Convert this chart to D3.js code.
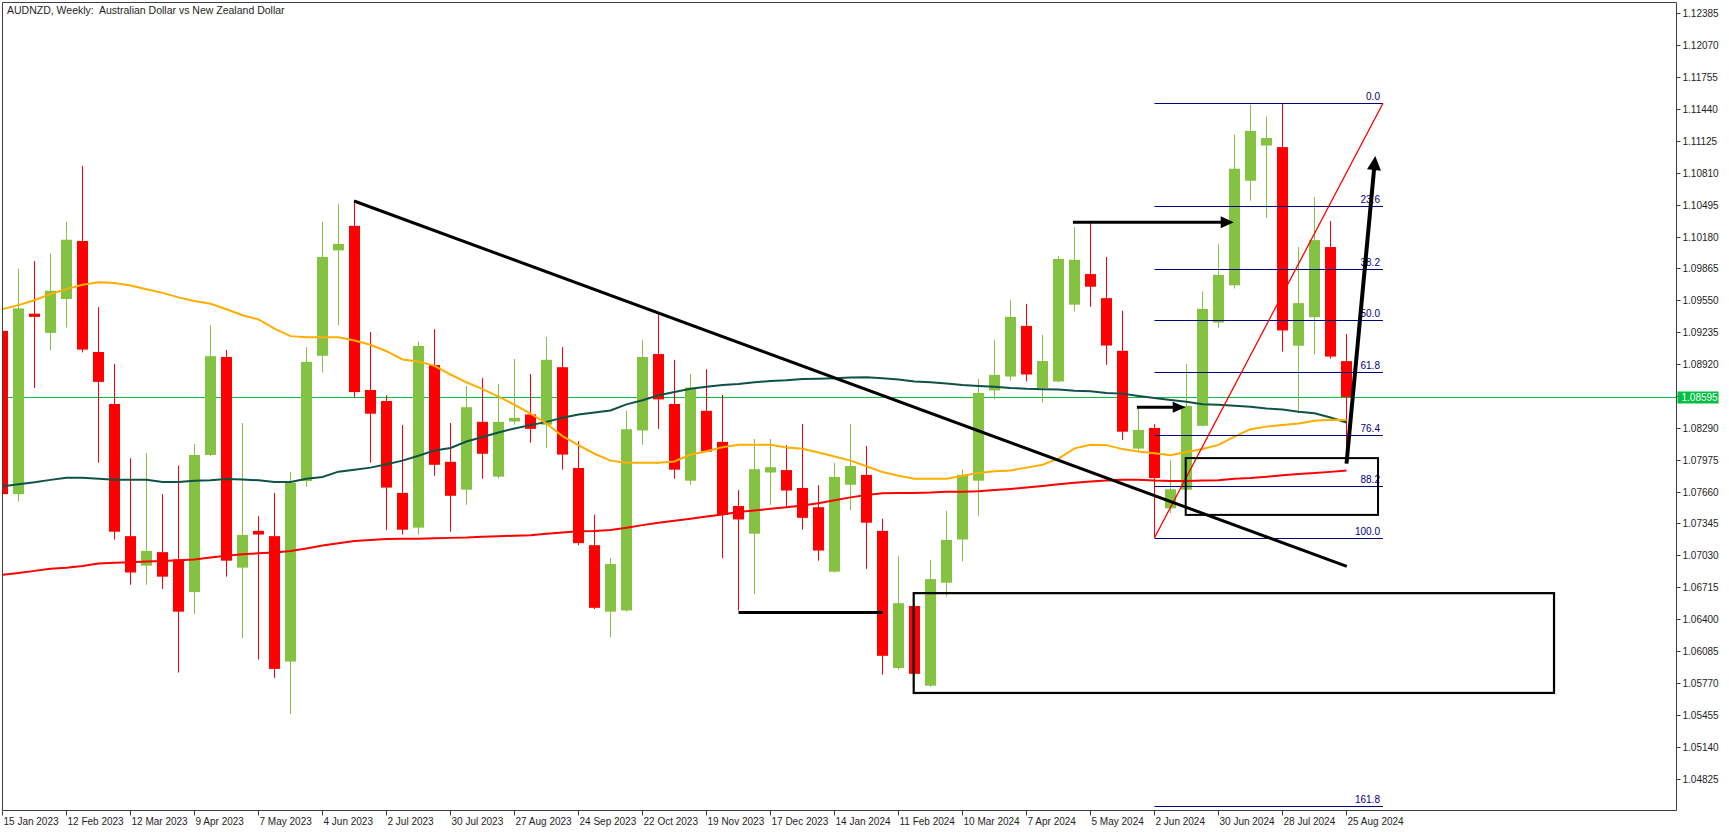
<!DOCTYPE html>
<html><head><meta charset="utf-8">
<script src="https://cdn.jsdelivr.net/npm/d3@7"></script>
<style>
html,body{margin:0;padding:0;background:#fff;overflow:hidden}
svg{display:block}
text{font-family:"Liberation Sans Narrow","Liberation Sans",Arial,sans-serif}
</style></head><body>
<svg id="c" width="1729" height="832"></svg>
<script>
// ---- weekly OHLC, AUDNZD (one entry per week, starting 15 Jan 2023)
const openP = [1.09248,1.07635,1.09418,1.09228,1.09563,1.10136,1.09039,1.08526,1.07220,1.06929,
1.07062,1.06990,1.06667,1.08022,1.08990,1.06909,1.07272,1.07220,1.05981,1.07764,
1.09002,1.10043,1.10285,1.08664,1.08555,1.07647,1.07304,1.08910,1.07954,1.07679,
1.08349,1.07808,1.08353,1.08422,1.08321,1.08889,1.07893,1.07131,1.06474,1.06486,
1.08264,1.09019,1.08526,1.07768,1.08458,1.08151,1.07518,1.07244,1.07849,1.07873,
1.07696,1.07506,1.06869,1.07728,1.07825,1.07272,1.05917,1.06530,1.05743,1.06760,
1.07187,1.07768,1.08660,1.08797,1.09297,1.08684,1.08748,1.09507,1.09809,1.09571,
1.09051,1.08085,1.08289,1.07495,1.07679,1.08310,1.09330,1.09698,1.10731,1.11079,
1.11063,1.09101,1.09383,1.10076,1.08949];
const highP = [1.09320,1.09861,1.09938,1.10013,1.10325,1.10878,1.09482,1.08922,1.07990,1.08042,
1.07635,1.07917,1.08131,1.09305,1.09059,1.08337,1.07417,1.07647,1.07853,1.09087,
1.10325,1.10503,1.10539,1.09236,1.08611,1.08317,1.09140,1.09264,1.08337,1.08704,
1.08781,1.08724,1.08970,1.08821,1.09188,1.09087,1.08159,1.07433,1.07002,1.08458,
1.09160,1.09410,1.08962,1.08821,1.08869,1.08615,1.07675,1.08179,1.08179,1.08119,
1.08329,1.07724,1.07942,1.08329,1.08111,1.07393,1.07022,1.06545,1.06985,1.07470,
1.07877,1.08772,1.09160,1.09555,1.09515,1.09208,1.09987,1.10273,1.10313,1.09978,
1.09446,1.08486,1.08326,1.07970,1.08920,1.09637,1.10104,1.11186,1.11481,1.11366,
1.11493,1.10076,1.10571,1.10333,1.09216];
const lowP = [1.07570,1.07563,1.08684,1.09055,1.09281,1.09035,1.07946,1.07187,1.06740,1.06740,
1.06699,1.05873,1.06453,1.08010,1.06820,1.06215,1.06002,1.05820,1.05465,1.07708,
1.08837,1.09305,1.08591,1.07946,1.07280,1.07236,1.07236,1.07817,1.07264,1.07530,
1.07788,1.07790,1.08321,1.08143,1.08091,1.07877,1.07131,1.06500,1.06223,1.06474,
1.08123,1.08280,1.07788,1.07728,1.08050,1.07002,1.06486,1.06647,1.07530,1.07510,
1.07284,1.06978,1.06860,1.07474,1.06897,1.05852,1.05901,1.05855,1.05731,1.06624,
1.06970,1.07421,1.08571,1.08756,1.08748,1.08539,1.08740,1.09438,1.09486,1.08914,
1.08171,1.08052,1.07204,1.07446,1.07670,1.08305,1.09277,1.09666,1.10534,1.10366,
1.09043,1.08433,1.09015,1.08974,1.08089];
const closeP = [1.07635,1.09470,1.09386,1.09644,1.10148,1.09063,1.08744,1.07264,1.06861,1.07074,
1.06820,1.06474,1.08022,1.08998,1.06978,1.07232,1.07236,1.05909,1.07748,1.08942,
1.09978,1.10107,1.08643,1.08430,1.07700,1.07284,1.09099,1.07925,1.07619,1.08494,
1.08034,1.08349,1.08389,1.08280,1.08962,1.08026,1.07151,1.06512,1.06945,1.08276,
1.08990,1.08571,1.07877,1.08688,1.08055,1.07433,1.07385,1.07881,1.07901,1.07671,
1.07401,1.07078,1.07805,1.07913,1.07353,1.06038,1.06558,1.05860,1.06796,1.07183,
1.07825,1.08635,1.08813,1.09386,1.08817,1.08950,1.09958,1.09950,1.09684,1.09103,
1.08252,1.08270,1.07794,1.07683,1.08507,1.09465,1.09801,1.10850,1.11223,1.11153,
1.09252,1.09522,1.10145,1.08994,1.08595];

// ---- moving averages
const maOrange = [1.09462,1.09502,1.09551,1.09611,1.09660,1.09704,1.09728,1.09720,1.09696,1.09660,
1.09623,1.09579,1.09543,1.09515,1.09462,1.09402,1.09361,1.09269,1.09196,1.09184,
1.09184,1.09184,1.09152,1.09111,1.09047,1.08966,1.08946,1.08902,1.08817,1.08740,
1.08672,1.08599,1.08518,1.08430,1.08333,1.08208,1.08119,1.08034,1.07966,1.07946,
1.07946,1.07946,1.07958,1.08026,1.08059,1.08099,1.08123,1.08123,1.08123,1.08095,
1.08083,1.08046,1.08006,1.07966,1.07910,1.07853,1.07817,1.07788,1.07788,1.07788,
1.07817,1.07845,1.07861,1.07869,1.07897,1.07925,1.07986,1.08087,1.08123,1.08119,
1.08080,1.08056,1.08040,1.08019,1.08052,1.08081,1.08122,1.08203,1.08277,1.08302,
1.08318,1.08334,1.08359,1.08371,1.08367];
const maTeal = [1.07712,1.07732,1.07752,1.07776,1.07796,1.07796,1.07788,1.07776,1.07776,1.07776,
1.07756,1.07756,1.07768,1.07772,1.07784,1.07780,1.07772,1.07756,1.07756,1.07788,
1.07804,1.07857,1.07877,1.07897,1.07930,1.07966,1.08014,1.08067,1.08091,1.08155,
1.08200,1.08244,1.08284,1.08317,1.08349,1.08389,1.08422,1.08442,1.08462,1.08522,
1.08563,1.08611,1.08643,1.08676,1.08696,1.08712,1.08724,1.08740,1.08752,1.08760,
1.08772,1.08776,1.08781,1.08787,1.08789,1.08781,1.08768,1.08748,1.08740,1.08728,
1.08712,1.08704,1.08696,1.08684,1.08676,1.08672,1.08668,1.08656,1.08652,1.08635,
1.08628,1.08605,1.08584,1.08564,1.08547,1.08523,1.08519,1.08507,1.08498,1.08482,
1.08470,1.08449,1.08433,1.08392,1.08343];
const maRed = [1.06837,1.06857,1.06877,1.06897,1.06909,1.06925,1.06949,1.06958,1.06962,1.06970,
1.06974,1.06982,1.06990,1.07010,1.07026,1.07042,1.07050,1.07058,1.07074,1.07099,
1.07127,1.07151,1.07171,1.07183,1.07191,1.07195,1.07195,1.07199,1.07203,1.07207,
1.07215,1.07220,1.07224,1.07228,1.07244,1.07256,1.07268,1.07272,1.07280,1.07304,
1.07329,1.07353,1.07373,1.07393,1.07413,1.07433,1.07458,1.07474,1.07490,1.07506,
1.07522,1.07546,1.07575,1.07603,1.07627,1.07643,1.07647,1.07647,1.07651,1.07659,
1.07659,1.07663,1.07675,1.07687,1.07700,1.07716,1.07732,1.07748,1.07760,1.07770,
1.07778,1.07777,1.07769,1.07765,1.07765,1.07769,1.07773,1.07786,1.07794,1.07806,
1.07822,1.07835,1.07843,1.07855,1.07868];

// ---- axis labels
const dateLabels = ["15 Jan 2023","12 Feb 2023","12 Mar 2023","9 Apr 2023","7 May 2023","4 Jun 2023",
"2 Jul 2023","30 Jul 2023","27 Aug 2023","24 Sep 2023","22 Oct 2023","19 Nov 2023","17 Dec 2023",
"14 Jan 2024","11 Feb 2024","10 Mar 2024","7 Apr 2024","5 May 2024","2 Jun 2024","30 Jun 2024",
"28 Jul 2024","25 Aug 2024"];
const dateLabelIdx = [0,4,8,12,16,20,24,28,32,36,40,44,48,52,56,60,64,68,72,76,80,84];
const priceTickLabels = ["1.12385","1.12070","1.11755","1.11440","1.11125","1.10810","1.10495",
"1.10180","1.09865","1.09550","1.09235","1.08920","1.08605","1.08290","1.07975","1.07660",
"1.07345","1.07030","1.06715","1.06400","1.06085","1.05770","1.05455","1.05140","1.04825"];
const currentPrice = 1.08595;
const titleText = "AUDNZD, Weekly:  Australian Dollar vs New Zealand Dollar";

// ---- drawn objects (candle index, price)
const trendLine = [[21.97,1.10531],[84.02,1.06921]];
const lowLine = [[46.0,1.06467],[55.0,1.06467]];
const arrowTop = [[66.9,1.10320],[76.95,1.10320]];
const arrowMid = [[70.9,1.08493],[73.95,1.08493]];
const arrowUp = [[84.0,1.07937],[85.8,1.10975]];
const boxSmall = [[73.95,1.07991],[85.97,1.07430]];
const boxLarge = [[56.95,1.06657],[96.97,1.05671]];
const fibHigh = 1.11497, fibLow = 1.07204;
const fibStart = 72.0, fibEnd = 86.28;
const fibLevels = [0,23.6,38.2,50,61.8,76.4,88.2,100,161.8];

// ---- drawing
const svg = d3.select("#c");
const L = 2.5, R = 1676.5, T = 2.5, B = 810.5;
const x = d3.scaleLinear().domain([0,84]).range([2.5,1346.5]);
const y = d3.scaleLinear().domain([1.04825,1.12385]).range([778.6,13.3]);

svg.append("rect").attr("width",1729).attr("height",832).attr("fill","#fff");
svg.append("defs").append("clipPath").attr("id","clip")
  .append("rect").attr("x",L+0.5).attr("y",T+0.5).attr("width",R-L-1).attr("height",B-T-1);
const plot = svg.append("g").attr("clip-path","url(#clip)");

const BID = "#00c040";
plot.append("line").attr("x1",L).attr("x2",R).attr("y1",Math.round(y(currentPrice))+0.5).attr("y2",Math.round(y(currentPrice))+0.5)
  .attr("stroke",BID).attr("stroke-width",1);

const GREEN = "#84c341", RED = "#ff0000";
const idx = d3.range(openP.length);
const cg = plot.append("g");
cg.selectAll("line.w").data(idx).join("line")
  .attr("x1",i=>Math.round(x(i)-0.5)+0.5).attr("x2",i=>Math.round(x(i)-0.5)+0.5)
  .attr("y1",i=>y(highP[i])).attr("y2",i=>y(lowP[i]))
  .attr("stroke",i=>closeP[i]>=openP[i]?GREEN:RED).attr("stroke-width",1);
cg.selectAll("rect.b").data(idx).join("rect")
  .attr("x",i=>Math.round(x(i)-0.5)-5).attr("width",11)
  .attr("y",i=>y(Math.max(openP[i],closeP[i])))
  .attr("height",i=>Math.max(1,Math.abs(y(openP[i])-y(closeP[i]))))
  .attr("fill",i=>closeP[i]>=openP[i]?GREEN:RED);

const line = d3.line().x((d,i)=>x(i)).y(d=>y(d));
plot.append("path").attr("d",line(maRed)).attr("fill","none").attr("stroke","#ff0000").attr("stroke-width",2);
plot.append("path").attr("d",line(maTeal)).attr("fill","none").attr("stroke","#0e5247").attr("stroke-width",2);
plot.append("path").attr("d",line(maOrange)).attr("fill","none").attr("stroke","#ffae00").attr("stroke-width",2);

// fibonacci
const fg = plot.append("g");
const fibPrice = l => fibHigh-(fibHigh-fibLow)*l/100;
fg.selectAll("line").data(fibLevels).join("line")
  .attr("x1",x(fibStart)).attr("x2",x(fibEnd))
  .attr("y1",l=>Math.round(y(fibPrice(l)))+0.5).attr("y2",l=>Math.round(y(fibPrice(l)))+0.5)
  .attr("stroke","#000080").attr("stroke-width",1);
fg.selectAll("text").data(fibLevels).join("text")
  .attr("x",x(fibEnd)-3).attr("y",l=>y(fibPrice(l))-3)
  .attr("text-anchor","end").attr("font-size","10px").attr("fill","#000080")
  .text(l=>l.toFixed(1));
plot.append("line").attr("x1",x(fibStart)).attr("y1",y(fibLow)).attr("x2",x(fibEnd)).attr("y2",y(fibHigh))
  .attr("stroke","#ff0000").attr("stroke-width",1.3);

// boxes
function box(b,w){
  plot.append("rect").attr("x",x(b[0][0])).attr("y",y(b[0][1]))
   .attr("width",x(b[1][0])-x(b[0][0])).attr("height",y(b[1][1])-y(b[0][1]))
   .attr("fill","none").attr("stroke","#000").attr("stroke-width",w);
}
box(boxSmall,2); box(boxLarge,2.2);

function seg(s,w){
  plot.append("line").attr("x1",x(s[0][0])).attr("y1",y(s[0][1]))
   .attr("x2",x(s[1][0])).attr("y2",y(s[1][1])).attr("stroke","#000").attr("stroke-width",w);
}
seg(trendLine,3); seg(lowLine,3);
function arrow(s,w,len,hw){
  const x1=x(s[0][0]),y1=y(s[0][1]),x2=x(s[1][0]),y2=y(s[1][1]);
  const dx=x2-x1,dy=y2-y1,d=Math.hypot(dx,dy),ux=dx/d,uy=dy/d;
  const bx=x2-ux*len,by=y2-uy*len;
  plot.append("line").attr("x1",x1).attr("y1",y1).attr("x2",bx+ux*2).attr("y2",by+uy*2)
   .attr("stroke","#000").attr("stroke-width",w);
  plot.append("polygon").attr("points",[[x2,y2],[bx-uy*hw,by+ux*hw],[bx+uy*hw,by-ux*hw]].map(p=>p.join(",")).join(" "))
   .attr("fill","#000");
}
arrow(arrowTop,3,13,6); arrow(arrowMid,3,13,5.5); arrow(arrowUp,4,14,7);

// frame
svg.append("path").attr("d",`M${L},${T}H${R}V${B}H${L}Z`).attr("fill","none").attr("stroke","#3a3f44").attr("stroke-width",1);

// y axis
const ya = svg.append("g");
priceTickLabels.forEach(s=>{
  const v=+s, yy=Math.round(y(v))+0.5;
  ya.append("line").attr("x1",R).attr("x2",R+4).attr("y1",yy).attr("y2",yy).attr("stroke","#3a3f44");
  if (Math.abs(y(v)-y(currentPrice))>8)
    ya.append("text").attr("x",R+6).attr("y",yy+3.5).attr("font-size","10px").attr("fill","#1e1e1e").text(s);
});
const cy=Math.round(y(currentPrice))+0.5;
ya.append("rect").attr("x",R+1).attr("y",cy-6).attr("width",41).attr("height",12).attr("fill",BID);
ya.append("text").attr("x",R+5).attr("y",cy+3.5).attr("font-size","10px").attr("fill","#fff").text(currentPrice.toFixed(5));

// x axis
const xa = svg.append("g");
dateLabelIdx.forEach((i,k)=>{
  const xx=Math.round(x(i)-0.5)+0.5;
  xa.append("line").attr("x1",xx).attr("x2",xx).attr("y1",B).attr("y2",B+5).attr("stroke","#3a3f44");
  xa.append("text").attr("x",xx+1).attr("y",825).attr("font-size","10px").attr("fill","#1e1e1e").text(dateLabels[k]);
});

// title
svg.append("text").attr("x",7).attr("y",14).attr("font-size","10.5px").attr("fill","#1e1e1e")
  .style("white-space","pre").text(titleText);
</script>
</body></html>
